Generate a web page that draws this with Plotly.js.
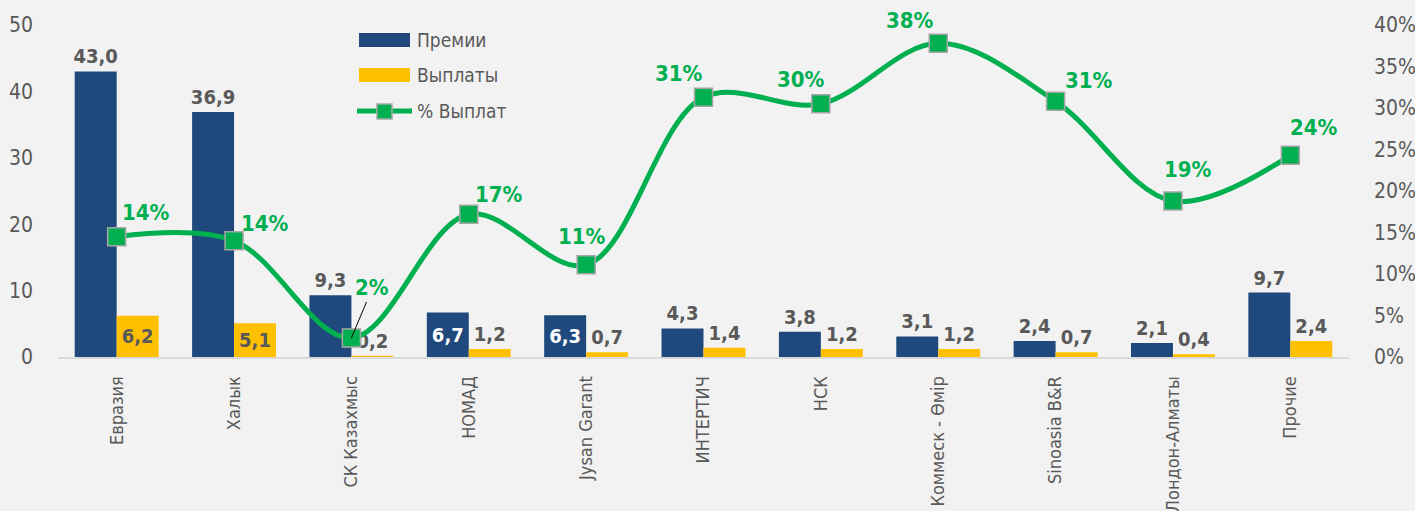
<!DOCTYPE html>
<html>
<head>
<meta charset="utf-8">
<script src="https://cdn.plot.ly/plotly-3.0.1.min.js"></script>
<style>
html,body{margin:0;padding:0;background:#F2F2F2;}
#chart{width:1415px;height:511px;}
</style>
</head>
<body>
<div id="chart"></div>
<script>
// ---- data ----
const categories = ["Евразия","Халык","СК Казахмыс","НОМАД","Jysan Garant","ИНТЕРТИЧ","НСК","Коммеск - Өмір","Sinoasia B&R","Лондон-Алматы","Прочие"];
const premiums = [43.0, 36.9, 9.3, 6.7, 6.3, 4.3, 3.8, 3.1, 2.4, 2.1, 9.7];
const payouts = [6.2, 5.1, 0.2, 1.2, 0.7, 1.4, 1.2, 1.2, 0.7, 0.4, 2.4];
const payoutPct = [14.5, 14.0, 2.3, 17.2, 11.1, 31.3, 30.5, 37.8, 30.8, 18.8, 24.3];
const payoutPctLabels = ["14%","14%","2%","17%","11%","31%","30%","38%","31%","19%","24%"];
const seriesNames = ["Премии", "Выплаты", "% Выплат"];
const leftTicks = [0, 10, 20, 30, 40, 50];
const rightTicks = [0, 5, 10, 15, 20, 25, 30, 35, 40];

// ---- styles ----
const FONT = '"DejaVu Sans Condensed", "Liberation Sans Narrow", sans-serif';
const GREY = '#595959';
const NAVY = '#1F497D';
const YELLOW = '#FFC000';
const GREEN = '#00B050';
const fmt = v => v.toFixed(1).replace('.', ',');

const premPos = premiums.map((v,i) => (i===3||i===4) ? 'inside' : 'outside');
const payPos = payouts.map((v,i) => (i<2) ? 'inside' : 'outside');
// label offsets (px) for % labels
const pctShift = [[29,24],[31,17],null,[30,20],[-4,28],[-25,24],[-20,24],[-28,23],[33,21],[15,31],[24,28]];

const traces = [
  {type:'bar', name:seriesNames[0], x:categories, y:premiums, marker:{color:NAVY},
   text:premiums.map(fmt), textposition:premPos, insidetextanchor:'middle',
   textangle:0, constraintext:'none', cliponaxis:false,
   insidetextfont:{family:FONT,size:20,color:'#FFFFFF',weight:'bold'},
   outsidetextfont:{family:FONT,size:20,color:GREY,weight:'bold'},
   hoverinfo:'skip'},
  {type:'bar', name:seriesNames[1], x:categories, y:payouts, marker:{color:YELLOW},
   text:payouts.map(fmt), textposition:payPos, insidetextanchor:'middle',
   textangle:0, constraintext:'none', cliponaxis:false,
   insidetextfont:{family:FONT,size:20,color:GREY,weight:'bold'},
   outsidetextfont:{family:FONT,size:20,color:GREY,weight:'bold'},
   hoverinfo:'skip'},
  {type:'scatter', mode:'lines+markers', name:seriesNames[2], x:categories, y:payoutPct, yaxis:'y2',
   line:{color:GREEN, width:5, shape:'spline', smoothing:1},
   marker:{symbol:'square', size:18, color:GREEN, line:{color:'#A6A6A6', width:1.5}},
   cliponaxis:false, hoverinfo:'skip'}
];

const annotations = [];
payoutPct.forEach((v,i) => {
  if (pctShift[i]) {
    annotations.push({x:categories[i], y:v, xref:'x', yref:'y2', text:payoutPctLabels[i],
      showarrow:false, xshift:pctShift[i][0], yshift:pctShift[i][1],
      font:{family:FONT, size:22, color:GREEN, weight:'bold'}});
  } else {
    annotations.push({x:categories[i], y:v, xref:'x', yref:'y2', text:payoutPctLabels[i],
      showarrow:true, arrowhead:0, arrowwidth:1, arrowcolor:'#000000', ax:21, ay:-50, standoff:0,
      font:{family:FONT, size:22, color:GREEN, weight:'bold'}});
  }
});

// ---- custom legend (paper coords) ----
const PL = 58, PW = 1291, PB = 357, PH = 332;
const px = v => (v - PL) / PW;
const py = v => (PB - v) / PH;
const shapes = [
  {type:'rect', xref:'paper', yref:'paper', x0:px(359), x1:px(410), y0:py(47), y1:py(33), fillcolor:NAVY, line:{width:0}},
  {type:'rect', xref:'paper', yref:'paper', x0:px(359), x1:px(410), y0:py(82), y1:py(68), fillcolor:YELLOW, line:{width:0}},
  {type:'line', xref:'paper', yref:'paper', x0:px(357), x1:px(412), y0:py(111), y1:py(111), line:{color:GREEN, width:5}},
  {type:'rect', xref:'paper', yref:'paper', x0:px(377), x1:px(392), y0:py(119), y1:py(104), fillcolor:GREEN, line:{color:'#A6A6A6', width:1.5}}
];
[40, 75, 111].forEach((yy, i) => {
  annotations.push({xref:'paper', yref:'paper', x:px(415), y:py(yy), xanchor:'left', yanchor:'middle',
    text:seriesNames[i], showarrow:false, font:{family:FONT, size:19, color:GREY}});
});

const layout = {
  width:1415, height:511,
  paper_bgcolor:'#F2F2F2', plot_bgcolor:'#F2F2F2',
  margin:{l:58, r:66, t:25, b:154},
  barmode:'group', bargap:0.285, bargroupgap:0,
  font:{family:FONT, color:GREY},
  showlegend:false,
  xaxis:{type:'category', range:[-0.5, 10.5], tickangle:-90, tickfont:{family:FONT, size:18, color:GREY},
    showline:true, linecolor:'#D9D9D9', linewidth:2, ticks:'', showgrid:false, zeroline:false,
    automargin:false, ticklabelstandoff:10},
  yaxis:{range:[0,50], tickvals:leftTicks, ticktext:leftTicks.map(String), showgrid:false, zeroline:false,
    showline:false, ticks:'', tickfont:{family:FONT, size:21, color:GREY}, automargin:false, ticklabelstandoff:24},
  yaxis2:{range:[0,40], overlaying:'y', side:'right', tickvals:rightTicks, ticktext:rightTicks.map(t=>t+'%'),
    showgrid:false, zeroline:false, showline:false, ticks:'', tickfont:{family:FONT, size:21, color:GREY},
    automargin:false, ticklabelstandoff:24},
  shapes:shapes,
  annotations:annotations
};

Plotly.newPlot('chart', traces, layout, {displayModeBar:false, staticPlot:true});
</script>
</body>
</html>
